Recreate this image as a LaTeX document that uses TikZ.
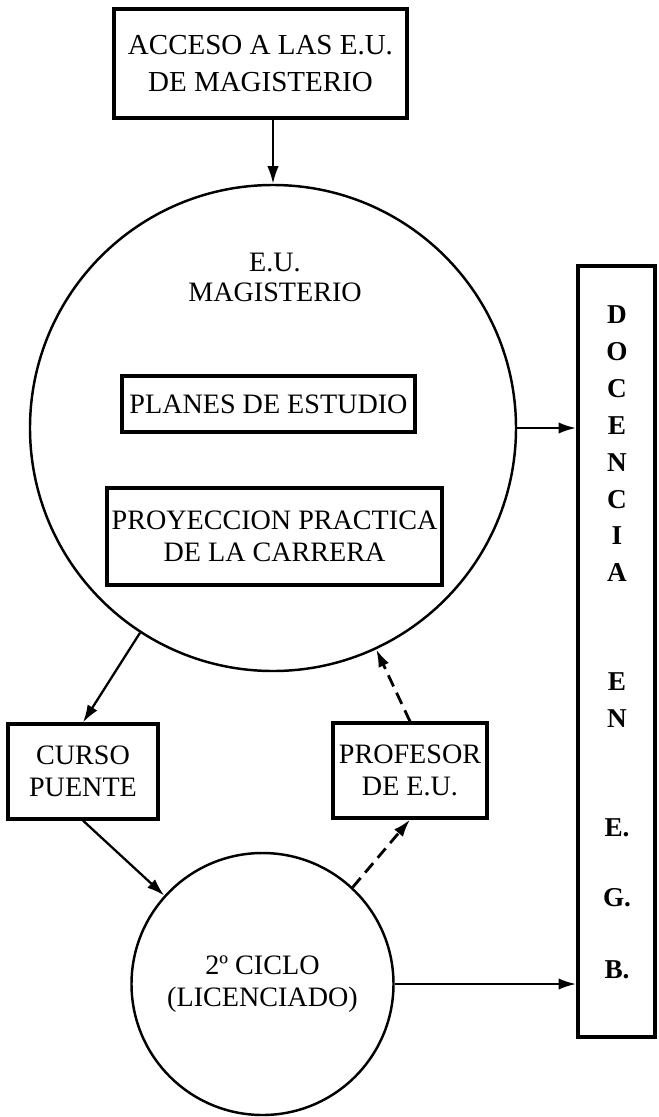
\documentclass[tikz,border=0pt]{standalone}
\usepackage{fontspec}
\setmainfont{Liberation Serif}
\usepackage{tikz}
\usetikzlibrary{shapes, arrows.meta, positioning}

\tikzset{
  caja/.style={draw, line width=1.8pt, inner sep=0pt, align=center, font=\fontsize{16}{18}\selectfont},
  circulo/.style={draw, circle, line width=1.4pt, inner sep=0pt, align=center, font=\fontsize{16}{18}\selectfont},
  flecha/.style={line width=1.3pt, -{Latex[length=10pt,width=6.5pt]}},
  flechapunt/.style={flecha, line width=1.6pt, dash pattern=on 7pt off 4pt}
}

\begin{document}
\begin{tikzpicture}
\useasboundingbox (0,0) rectangle (13.16,-22.34);

% entrada
\node[caja, minimum width=5.86cm, minimum height=2.18cm, font=\fontsize{16.5}{21}\selectfont] (acceso) at (5.21,-1.27) {ACCESO A LAS E.U.\\DE MAGISTERIO};

% escuela
\node[circulo, minimum size=9.72cm] (eu) at (5.46,-8.56) {};
\node[align=center, font=\fontsize{16}{17}\selectfont] (eutxt) at (5.50,-5.54) {E.U.\\MAGISTERIO};
\node[caja, minimum width=5.86cm, minimum height=1.12cm] (planes) at (5.37,-8.08) {PLANES DE ESTUDIO};
\node[caja, minimum width=6.70cm, minimum height=1.94cm, font=\fontsize{16}{18.2}\selectfont] (proy) at (5.49,-10.73) {PROYECCION PRACTICA\\DE LA CARRERA};

% salida
\node[draw, line width=2.2pt, minimum width=1.54cm, minimum height=15.42cm] (docencia) at (12.33,-13.03) {};
\node[align=center, font=\fontsize{15.5}{21}\selectfont\bfseries] (letras) at (12.34,-12.85) {%
  D\\O\\C\\E\\N\\C\\I\\A\\[41pt]
  E\\N\\[41pt]
  E.\\[19pt]G.\\[20pt]B.};

\node[caja, minimum width=3.0cm, minimum height=1.9cm] (curso) at (1.66,-15.43) {CURSO\\PUENTE};
\node[caja, minimum width=3.08cm, minimum height=1.9cm] (profesor) at (8.2,-15.41) {PROFESOR\\DE E.U.};
\node[circulo, minimum size=5.24cm] (ciclo) at (5.25,-19.68) {2º CICLO\\(LICENCIADO)};

\draw[flecha] (acceso.south -| eu.north) -- (eu.north);
\draw[flecha] (eu.east) -- (eu.east -| docencia.west);
\draw[flecha] (eu.-123) -- (curso.north);
\draw[flechapunt] (profesor.north) -- (eu.-65);
\draw[flecha] (curso.south) -- (ciclo.138);
\draw[flechapunt] (ciclo.47) -- (profesor.south);
\draw[flecha] (ciclo.east) -- (ciclo.east -| docencia.west);
\end{tikzpicture}
\end{document}
